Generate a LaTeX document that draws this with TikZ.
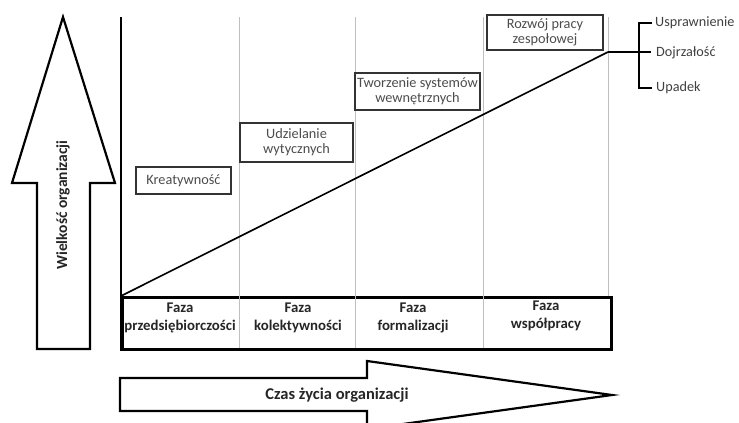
\documentclass[tikz,border=0pt]{standalone}
\usepackage{fontspec}
\setmainfont{Carlito}
\begin{document}
\begin{tikzpicture}[x=1pt,y=-1pt,
  thk/.style={line width=2.2pt,line join=miter},
  grid/.style={draw=black!25,line width=1pt},
  stagebox/.style={draw=black!80,line width=1.8pt,text=black!70,font=\fontsize{14.3}{15}\selectfont,align=center,inner sep=2pt},
  phase/.style={font=\bfseries\fontsize{14.8}{18}\selectfont,text=black!85,align=center},
  outcome/.style={font=\fontsize{14.2}{15}\selectfont,text=black!75,anchor=west,inner sep=0pt}]
\useasboundingbox (0,0) rectangle (739,423);
\clip (0,0) rectangle (739,423);
% vertical arrow
\draw[thk] (63,17) -- (115,183) -- (90,183) -- (90,349) -- (37,349) -- (37,183) -- (12,183) -- cycle;
\node[rotate=90,font=\bfseries\fontsize{15.5}{17}\selectfont,text=black!85] (size) at (63,205) {Wielkość organizacji};
% grid lines
\coordinate (g1t) at (239,17); \coordinate (g1b) at (239,296);
\coordinate (g2t) at (355,17); \coordinate (g2b) at (355,296);
\coordinate (g3t) at (483,17); \coordinate (g3b) at (483,296);
\coordinate (g4t) at (608,17); \coordinate (g4b) at (608,296);
\draw[grid] (g1t) -- (g1b);
\draw[grid] (g2t) -- (g2b);
\draw[grid] (g3t) -- (g3b);
\draw[grid] (g4t) -- (g4b);
% table
\coordinate (axtop) at (121,17);
\node[draw,line width=2.5pt,minimum width=489pt,minimum height=52pt,inner sep=0pt,anchor=north west] (table) at (121,296) {};
\draw[grid] (239,296) -- (239,348);
\draw[grid] (355,296) -- (355,348);
\draw[grid] (483,296) -- (483,348);
\draw[thk] (axtop) -- (table.south west);
\node[phase] (p1) at (180,318) {Faza\\przedsiębiorczości};
\node[phase] (p2) at (298,318) {Faza\\kolektywności};
\node[phase] (p3) at (413,318) {Faza\\formalizacji};
\node[phase] (p4) at (546,316) {Faza\\współpracy};
% growth line
\coordinate (peak) at (608,52);
\draw[line width=1.6pt] (table.north west) -- (peak);
% stage boxes
\node[stagebox,minimum width=95pt,minimum height=27pt] (b1) at (183.5,180.5) {Kreatywność};
\node[stagebox,minimum width=113pt,minimum height=39pt] (b2) at (296.5,142.5) {Udzielanie\\wytycznych};
\node[stagebox,minimum width=119pt,minimum height=37pt] (b3) at (417.5,91.5) {Tworzenie systemów\\wewnętrznych};
\node[stagebox,minimum width=116pt,minimum height=35pt] (b4) at (545,32.5) {Rozwój pracy\\zespołowej};
% outcomes
\node[outcome] (o1) at (655,23) {Usprawnienie};
\node[outcome] (o2) at (656,53) {Dojrzałość};
\node[outcome] (o3) at (656,88) {Upadek};
\coordinate (bt) at (639,23);
\coordinate (bb) at (639,88);
\draw[line width=1.8pt] (peak) -- (651,52);
\draw[line width=1.8pt] (652,23) -- (bt) -- (bb) -- (652,88);
% time arrow
\draw[thk] (120,378) -- (367,378) -- (367,361) -- (612,395) -- (367,429) -- (367,411) -- (120,411) -- cycle;
\node[font=\bfseries\fontsize{16.5}{18}\selectfont,text=black!85] (time) at (337,395) {Czas życia organizacji};
\end{tikzpicture}
\end{document}
